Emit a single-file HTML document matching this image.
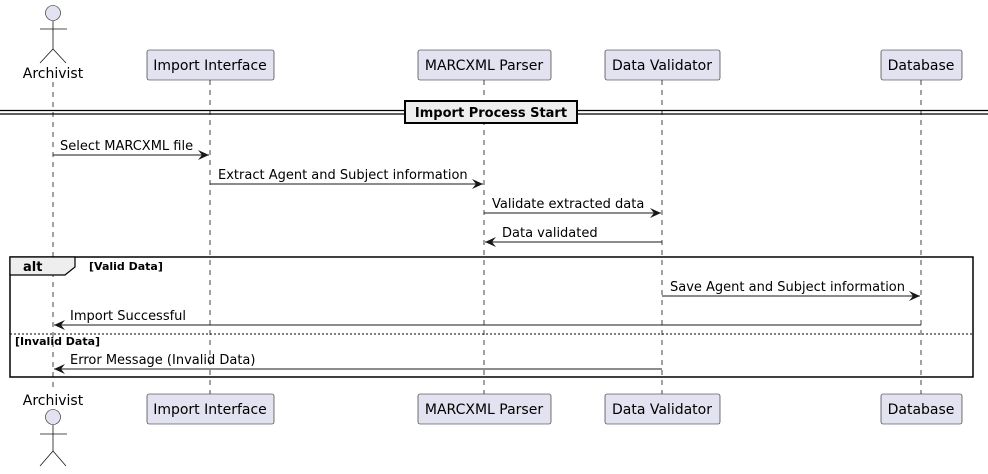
<!DOCTYPE html>
<html><head><style>body{margin:0;background:#fff}svg{display:block}text{font-family:"DejaVu Sans","Liberation Sans",sans-serif}</style></head><body>
<svg width="988" height="474" xmlns="http://www.w3.org/2000/svg">
<defs><marker id="a" markerWidth="12" markerHeight="10" refX="11" refY="5" orient="auto" markerUnits="userSpaceOnUse"><path d="M0,0 L11,5 L0,10 L4,5 Z" fill="#181818"/></marker></defs>
<g stroke="#181818" stroke-width="0.8" stroke-dasharray="5,5">
<line x1="53" y1="82" x2="53" y2="392"/><line x1="210" y1="80" x2="210" y2="394"/><line x1="484" y1="80" x2="484" y2="394"/><line x1="662" y1="80" x2="662" y2="394"/><line x1="921" y1="80" x2="921" y2="394"/>
</g>
<g fill="#E2E2F0" stroke="#181818" stroke-width="0.6">
<rect x="147" y="50" width="127" height="30" rx="2"/><rect x="418" y="50" width="133" height="30" rx="2"/><rect x="605" y="50" width="115" height="30" rx="2"/><rect x="881" y="50" width="81" height="30" rx="2"/>
<rect x="147" y="394" width="127" height="30" rx="2"/><rect x="418" y="394" width="133" height="30" rx="2"/><rect x="605" y="394" width="115" height="30" rx="2"/><rect x="881" y="394" width="81" height="30" rx="2"/>
<circle cx="53" cy="13" r="7.5"/><circle cx="53" cy="417" r="7.5"/>
</g>
<g stroke="#181818" stroke-width="0.8" fill="none">
<path d="M53,21 V49 M40,29 H67 M40,63 L53,49 L66,63"/>
<path d="M53,425 V451 M40,434 H67 M40,466 L53,451 L66,466"/>
</g>
<g font-size="14" fill="#000" text-anchor="middle">
<text x="53" y="78">Archivist</text><text x="210" y="70">Import Interface</text><text x="484" y="70">MARCXML Parser</text><text x="662" y="70">Data Validator</text><text x="921" y="70">Database</text>
<text x="53" y="405">Archivist</text><text x="210" y="414">Import Interface</text><text x="484" y="414">MARCXML Parser</text><text x="662" y="414">Data Validator</text><text x="921" y="414">Database</text>
</g>
<g stroke="#000" stroke-width="1.2"><line x1="0" y1="110.5" x2="988" y2="110.5"/><line x1="0" y1="114" x2="988" y2="114"/></g>
<rect x="405" y="101" width="172" height="22" fill="#EEEEEE" stroke="#000" stroke-width="2"/>
<text x="491" y="117" font-size="13" font-weight="bold" text-anchor="middle">Import Process Start</text>
<g stroke="#181818" stroke-width="1" marker-end="url(#a)">
<line x1="53" y1="155" x2="209" y2="155"/><line x1="210" y1="184" x2="483" y2="184"/><line x1="484" y1="213" x2="661" y2="213"/><line x1="662" y1="242" x2="485" y2="242"/>
<line x1="662" y1="296" x2="920" y2="296"/><line x1="921" y1="325" x2="54" y2="325"/><line x1="662" y1="369" x2="54" y2="369"/>
</g>
<g font-size="13" fill="#000">
<text x="60" y="150">Select MARCXML file</text><text x="218" y="179">Extract Agent and Subject information</text><text x="492" y="208">Validate extracted data</text><text x="502" y="237">Data validated</text>
<text x="670" y="291">Save Agent and Subject information</text><text x="70" y="320">Import Successful</text><text x="70" y="364">Error Message (Invalid Data)</text>
</g>
<rect x="10" y="257" width="963" height="120" fill="none" stroke="#000" stroke-width="1.5"/>
<path d="M10,257 H75 V267 L65,275 H10 Z" fill="#EEEEEE" stroke="#000" stroke-width="1.2"/>
<text x="23" y="271" font-size="13" font-weight="bold">alt</text>
<text x="89" y="270" font-size="11" font-weight="bold">[Valid Data]</text>
<line x1="10" y1="334" x2="973" y2="334" stroke="#000" stroke-width="1" stroke-dasharray="2,2"/>
<text x="15" y="345" font-size="11" font-weight="bold">[Invalid Data]</text>
</svg>
</body></html>
